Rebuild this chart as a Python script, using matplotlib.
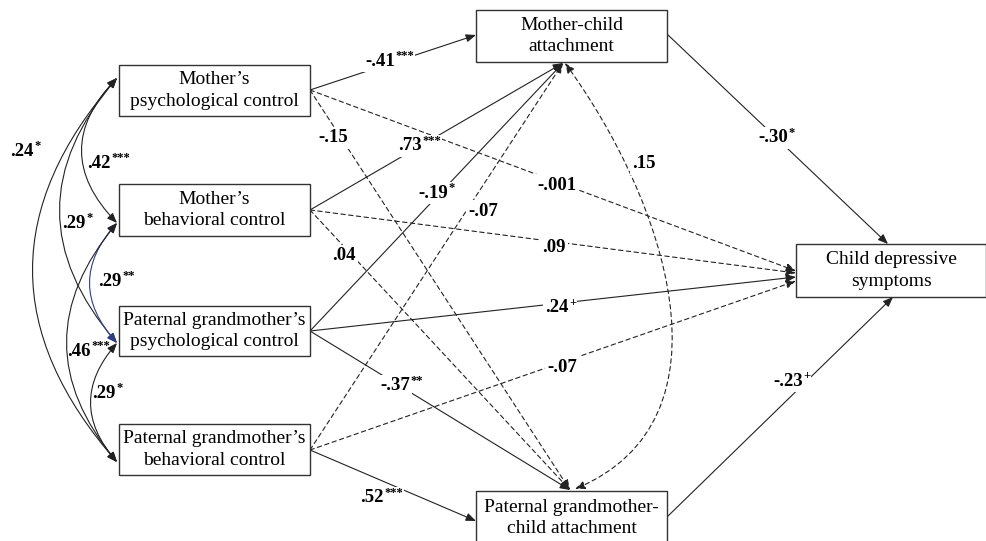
import matplotlib.pyplot as plt
from matplotlib.patches import Rectangle, FancyArrowPatch
from matplotlib.path import Path

plt.rcParams['font.family'] = ['Liberation Serif', 'DejaVu Serif']

# variables in the model
node_names = ['MPC', 'MBC', 'PGPC', 'PGBC', 'MCA', 'PGCA', 'CDS']
node_labels = ["Mother’s\npsychological control",
               "Mother’s\nbehavioral control",
               "Paternal grandmother’s\npsychological control",
               "Paternal grandmother’s\nbehavioral control",
               "Mother-child\nattachment",
               "Paternal grandmother-\nchild attachment",
               "Child depressive\nsymptoms"]

# directed paths (standardised coefficients)
path_from = ['MPC', 'MBC', 'PGPC', 'PGBC', 'MPC', 'MBC', 'PGPC', 'PGBC',
             'MPC', 'MBC', 'PGPC', 'PGBC', 'MCA', 'PGCA']
path_to = ['MCA', 'MCA', 'MCA', 'MCA', 'PGCA', 'PGCA', 'PGCA', 'PGCA',
           'CDS', 'CDS', 'CDS', 'CDS', 'CDS', 'CDS']
path_coef = ['-.41', '.73', '-.19', '-.07', '-.15', '.04', '-.37', '.52',
             '-.001', '.09', '.24', '-.07', '-.30', '-.23']
path_sig = ['***', '***', '*', '', '', '', '**', '***',
            '', '', '+', '', '*', '+']

# residual covariance of the two mediators
med_pair = ['MCA', 'PGCA']
med_coef = '.15'
med_sig = ''

# covariances among the predictors
cov_a = ['MPC', 'MPC', 'MPC', 'MBC', 'MBC', 'PGPC']
cov_b = ['MBC', 'PGPC', 'PGBC', 'PGPC', 'PGBC', 'PGBC']
cov_coef = ['.42', '.29', '.24', '.29', '.46', '.29']
cov_sig = ['***', '*', '*', '**', '***', '*']

# ---- layout (pixel coordinates, y downwards) ----
boxes = {'MPC': (119, 65, 310, 116), 'MBC': (119, 184, 310, 236),
         'PGPC': (119, 306, 310, 356), 'PGBC': (119, 424, 310, 475),
         'MCA': (476, 10, 667, 62), 'PGCA': (476, 491, 667, 545),
         'CDS': (796, 244, 986, 297)}
start_pt = {'MPC': (310, 90), 'MBC': (310, 210), 'PGPC': (310, 331),
            'PGBC': (310, 450), 'MCA': (667, 34), 'PGCA': (667, 517)}
path_end = [(476, 35), (563, 63), (563, 63), (563, 63),
            (570, 490), (570, 490), (570, 490), (476, 521),
            (796, 271), (796, 273), (796, 277), (796, 281),
            (888, 244), (893, 297)]
# left edge / vertical centre of each number
path_lab = [(365, 61), (398, 146), (418, 193), (468, 211),
            (318, 138), (332, 256), (380, 386), (360, 498),
            (537, 185), (542, 247), (545, 308), (547, 367),
            (758, 138), (773, 381)]
left_pt = {'MPC': (117, 78), 'MBC': (117, 223), 'PGPC': (117, 343), 'PGBC': (117, 462)}
cov_ctrl_x = [47, 3, -51, 63, 17, 65]
cov_lab = [(87, 163), (62, 223), (10, 151), (98, 281), (67, 351), (92, 393)]
cov_color = ['#222222', '#222222', '#222222', '#2f3f86', '#222222', '#222222']

lc = '#222222'
head = '-|>,head_length=0.5,head_width=0.2'
head2 = '<|-|>,head_length=0.5,head_width=0.2'
dash = (0, (4, 3))
white = dict(facecolor='white', edgecolor='none', pad=1.5)


def coef_text(x, y, c, s, box=True):
    t = ax.text(x, y, c, ha='left', va='center', fontsize=13.5, fontweight='bold',
                zorder=2, bbox=white if box else None)
    if s:
        ax.annotate(s, xy=(1, 1), xycoords=t, xytext=(0.5, 1.5), textcoords='offset points',
                    ha='left', va='top', fontsize=9, fontweight='bold', zorder=2,
                    bbox=dict(facecolor='white', edgecolor='none', pad=0.5) if box else None)


fig = plt.figure(figsize=(9.87, 5.41), dpi=100)
ax = fig.add_axes([0, 0, 1, 1])
ax.set_xlim(0, 987)
ax.set_ylim(541, 0)
ax.axis('off')

for name, txt in zip(node_names, node_labels):
    x0, y0, x1, y1 = boxes[name]
    ax.add_patch(Rectangle((x0, y0), x1 - x0, y1 - y0, facecolor='white',
                           edgecolor='#333333', lw=1.0, zorder=3))
    cy = (y0 + y1) / 2 if name != 'PGCA' else 518
    ax.text((x0 + x1) / 2, cy, txt, ha='center', va='center', fontsize=14,
            linespacing=1.35, zorder=4)

for i in range(len(path_from)):
    a = start_pt[path_from[i]]
    b = path_end[i]
    ls = dash if path_sig[i] == '' else '-'
    ax.add_patch(FancyArrowPatch(a, b, arrowstyle=head, mutation_scale=12,
                                 shrinkA=0, shrinkB=0, lw=0.8, color=lc,
                                 linestyle=ls, zorder=1))
    coef_text(*path_lab[i], path_coef[i], path_sig[i])

# mediator covariance
p0 = (565, 63)
p3 = (575, 489)
curve = Path([p0, (665, 200), (740, 420), p3],
             [Path.MOVETO, Path.CURVE4, Path.CURVE4, Path.CURVE4])
ax.add_patch(FancyArrowPatch(path=curve, arrowstyle=head2, mutation_scale=12,
                             lw=0.8, color=lc, linestyle=dash, zorder=1))
coef_text(632, 164, med_coef, med_sig)

# predictor covariances
for i in range(len(cov_a)):
    a = left_pt[cov_a[i]]
    b = left_pt[cov_b[i]]
    c = (cov_ctrl_x[i], (a[1] + b[1]) / 2)
    arc = Path([a, c, b], [Path.MOVETO, Path.CURVE3, Path.CURVE3])
    ax.add_patch(FancyArrowPatch(path=arc, arrowstyle=head2, mutation_scale=12,
                                 lw=0.8, color=cov_color[i], zorder=1))
    coef_text(*cov_lab[i], cov_coef[i], cov_sig[i], box=False)

fig.savefig('out.png', dpi=100)
